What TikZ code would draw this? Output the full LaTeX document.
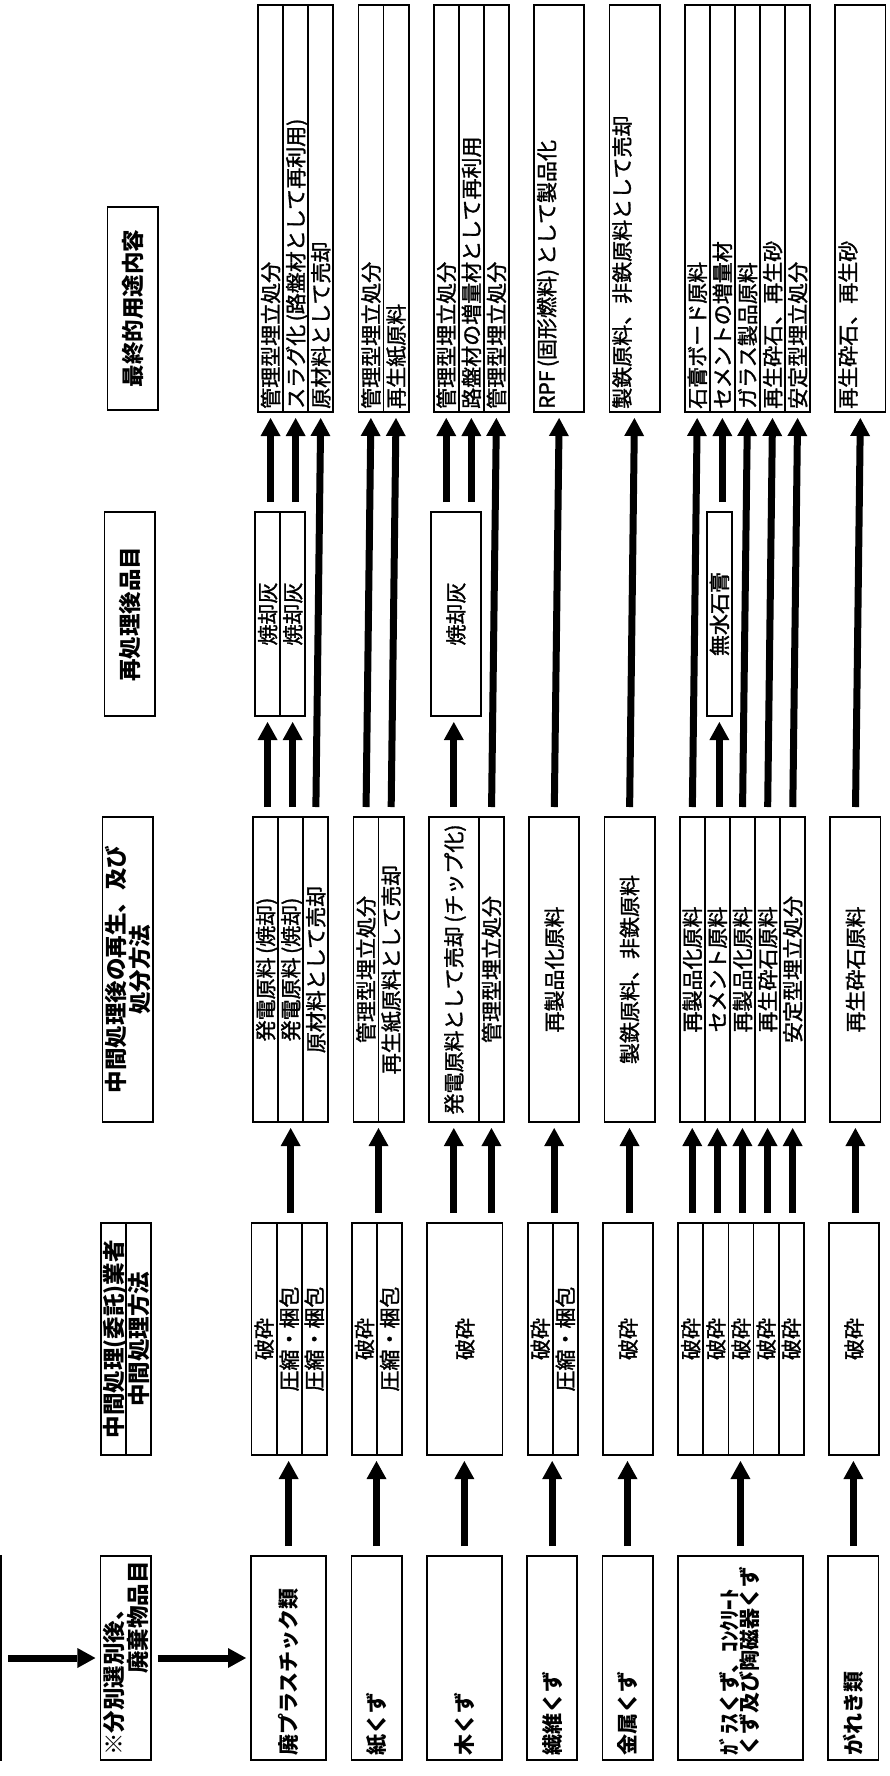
\documentclass[tikz,border=0pt]{standalone}
\usepackage{fontspec}
\setmainfont{Noto Sans CJK JP}
\newfontfamily\bodyjp{Noto Sans CJK JP}[FakeBold=1.5]
\usetikzlibrary{arrows.meta}

\newcommand\mkcell[6]{% name, base x, first unit, units, y top, y bottom
  \pgfmathsetmacro\mkW{#4*25.1}%
  \pgfmathsetmacro\mkH{#6-#5}%
  \pgfmathsetmacro\mkX{#2+(#3+#4/2)*25.1}%
  \pgfmathsetmacro\mkY{(#5+#6)/2}%
  \node[cellst, minimum width=\mkW pt, minimum height=\mkH pt] (#1) at (\mkX,\mkY) {};}

\tikzset{
  cellst/.style={draw, line width=1.8pt, inner sep=0pt, outer sep=0pt},
  txt/.style={rotate=90, inner sep=0pt, font=\bodyjp\fontsize{21}{24}\selectfont, text height=18.5pt, text depth=2.5pt},
  hd/.style={rotate=90, inner sep=0pt, font=\fontsize{22.5}{26}\selectfont\bfseries, text height=19.8pt, text depth=2.7pt},
  cat/.style={rotate=90, inner sep=0pt, font=\fontsize{21}{24}\selectfont\bfseries, text height=18.5pt, text depth=2.5pt},
  arr/.style={line width=7pt, -{Triangle[length=18pt,width=20pt,line width=0pt]}, shorten <=10pt, shorten >=6pt},
  harr/.style={arr, shorten <=7pt, shorten >=5pt}
}

\begin{document}
\begin{tikzpicture}[x=1pt,y=-1pt]
\useasboundingbox (0,0) rectangle (890,1776);
\fill[white] (0,0) rectangle (890,1776);

\def\cA{251}\def\cB{251.5}\def\cC{253}\def\cD{255}\def\cE{258}

% ---------- column 1 ----------
\node[cellst, minimum width=50pt, minimum height=204pt] (prev) at (-24,1658) {};
\mkcell{h1}{\cA}{-6}{2}{1556}{1760}
\mkcell{p1}{\cA}{0}{3}{1556}{1760}
\mkcell{k1}{\cA}{4}{2}{1556}{1760}
\mkcell{w1}{\cA}{7}{3}{1556}{1760}
\mkcell{f1}{\cA}{11}{2}{1556}{1760}
\mkcell{m1}{\cA}{14}{2}{1556}{1760}
\mkcell{g1}{\cA}{17}{5}{1556}{1760}
\mkcell{r1}{\cA}{23}{2}{1556}{1760}

% ---------- column 2 ----------
\mkcell{h2a}{\cB}{-6}{1}{1223}{1455}
\mkcell{h2b}{\cB}{-5}{1}{1223}{1455}
\mkcell{p2a}{\cB}{0}{1}{1223}{1455}
\mkcell{p2b}{\cB}{1}{1}{1223}{1455}
\mkcell{p2c}{\cB}{2}{1}{1223}{1455}
\mkcell{k2a}{\cB}{4}{1}{1223}{1455}
\mkcell{k2b}{\cB}{5}{1}{1223}{1455}
\mkcell{w2}{\cB}{7}{3}{1223}{1455}
\mkcell{f2a}{\cB}{11}{1}{1223}{1455}
\mkcell{f2b}{\cB}{12}{1}{1223}{1455}
\mkcell{m2}{\cB}{14}{2}{1223}{1455}
\mkcell{g2a}{\cB}{17}{1}{1223}{1455}
\mkcell{g2b}{\cB}{18}{1}{1223}{1455}
\mkcell{g2c}{\cB}{19}{1}{1223}{1455}
\mkcell{g2d}{\cB}{20}{1}{1223}{1455}
\mkcell{g2e}{\cB}{21}{1}{1223}{1455}
\mkcell{r2}{\cB}{23}{2}{1223}{1455}

% ---------- column 3 ----------
\mkcell{h3}{\cC}{-6}{2}{817}{1122}
\mkcell{p3a}{\cC}{0}{1}{817}{1122}
\mkcell{p3b}{\cC}{1}{1}{817}{1122}
\mkcell{p3c}{\cC}{2}{1}{817}{1122}
\mkcell{k3a}{\cC}{4}{1}{817}{1122}
\mkcell{k3b}{\cC}{5}{1}{817}{1122}
\mkcell{w3a}{\cC}{7}{2}{817}{1122}
\mkcell{w3b}{\cC}{9}{1}{817}{1122}
\mkcell{f3}{\cC}{11}{2}{817}{1122}
\mkcell{m3}{\cC}{14}{2}{817}{1122}
\mkcell{g3a}{\cC}{17}{1}{817}{1122}
\mkcell{g3b}{\cC}{18}{1}{817}{1122}
\mkcell{g3c}{\cC}{19}{1}{817}{1122}
\mkcell{g3d}{\cC}{20}{1}{817}{1122}
\mkcell{g3e}{\cC}{21}{1}{817}{1122}
\mkcell{r3}{\cC}{23}{2}{817}{1122}

% ---------- column 4 ----------
\mkcell{h4}{\cD}{-6}{2}{512}{716}
\mkcell{p4a}{\cD}{0}{1}{512}{716}
\mkcell{p4b}{\cD}{1}{1}{512}{716}
\mkcell{w4}{\cD}{7}{2}{512}{716}
\mkcell{g4}{\cD}{18}{1}{512}{716}

% ---------- column 5 ----------
\mkcell{h5}{\cE}{-6}{2}{207}{410}
\mkcell{p5a}{\cE}{0}{1}{5}{412}
\mkcell{p5b}{\cE}{1}{1}{5}{412}
\mkcell{p5c}{\cE}{2}{1}{5}{412}
\mkcell{k5a}{\cE}{4}{1}{5}{412}
\mkcell{k5b}{\cE}{5}{1}{5}{412}
\mkcell{w5a}{\cE}{7}{1}{5}{412}
\mkcell{w5b}{\cE}{8}{1}{5}{412}
\mkcell{w5c}{\cE}{9}{1}{5}{412}
\mkcell{f5}{\cE}{11}{2}{5}{412}
\mkcell{m5}{\cE}{14}{2}{5}{412}
\mkcell{g5a}{\cE}{17}{1}{5}{412}
\mkcell{g5b}{\cE}{18}{1}{5}{412}
\mkcell{g5c}{\cE}{19}{1}{5}{412}
\mkcell{g5d}{\cE}{20}{1}{5}{412}
\mkcell{g5e}{\cE}{21}{1}{5}{412}
\mkcell{r5}{\cE}{23}{2}{5}{412}

% ---------- texts: column 1 ----------
\node[hd, anchor=west] (th1a) at ([xshift=-12pt,yshift=4pt]h1.south) {※分別選別後、};
\node[hd, anchor=east] (th1b) at ([xshift=12pt,yshift=-5pt]h1.north) {廃棄物品目};
\node[cat, anchor=west] (tp1) at ([yshift=4pt]p1.south) {廃プラスチック類};
\node[cat, anchor=west] (tk1) at ([yshift=4pt]k1.south) {紙くず};
\node[cat, anchor=west] (tw1) at ([yshift=4pt]w1.south) {木くず};
\node[cat, anchor=west] (tf1) at ([yshift=4pt]f1.south) {繊維くず};
\node[cat, anchor=west] (tm1) at ([yshift=4pt]m1.south) {金属くず};
\node[cat, anchor=west] (tg1a) at ([xshift=-11pt,yshift=4pt]g1.south) {ｶﾞﾗｽくず、ｺﾝｸﾘｰﾄ};
\node[cat, anchor=west] (tg1b) at ([xshift=9pt,yshift=4pt]g1.south) {くず及び陶磁器くず};
\node[cat, anchor=west] (tr1) at ([yshift=4pt]r1.south) {がれき類};

% ---------- texts: column 2 ----------
\node[hd] (th2a) at (h2a) {中間処理(委託)業者};
\node[hd] (th2b) at (h2b) {中間処理方法};
\node[txt] (tp2a) at (p2a) {破砕};
\node[txt] (tp2b) at (p2b) {圧縮・梱包};
\node[txt] (tp2c) at (p2c) {圧縮・梱包};
\node[txt] (tk2a) at (k2a) {破砕};
\node[txt] (tk2b) at (k2b) {圧縮・梱包};
\node[txt] (tw2) at (w2) {破砕};
\node[txt] (tf2a) at (f2a) {破砕};
\node[txt] (tf2b) at (f2b) {圧縮・梱包};
\node[txt] (tm2) at (m2) {破砕};
\node[txt] (tg2a) at (g2a) {破砕};
\node[txt] (tg2b) at (g2b) {破砕};
\node[txt] (tg2c) at (g2c) {破砕};
\node[txt] (tg2d) at (g2d) {破砕};
\node[txt] (tg2e) at (g2e) {破砕};
\node[txt] (tr2) at (r2) {破砕};

% ---------- texts: column 3 ----------
\node[hd] (th3a) at ([xshift=-12pt]h3.center) {中間処理後の再生、及び};
\node[hd] (th3b) at ([xshift=12pt]h3.center) {処分方法};
\node[txt] (tp3a) at (p3a) {発電原料\,(焼却)};
\node[txt] (tp3b) at (p3b) {発電原料\,(焼却)};
\node[txt] (tp3c) at (p3c) {原材料として売却};
\node[txt] (tk3a) at (k3a) {管理型埋立処分};
\node[txt] (tk3b) at (k3b) {再生紙原料として売却};
\node[txt] (tw3a) at (w3a) {発電原料として売却\,(チップ化)};
\node[txt] (tw3b) at (w3b) {管理型埋立処分};
\node[txt] (tf3) at (f3) {再製品化原料};
\node[txt] (tm3) at (m3) {製鉄原料、非鉄原料};
\node[txt] (tg3a) at (g3a) {再製品化原料};
\node[txt] (tg3b) at (g3b) {セメント原料};
\node[txt] (tg3c) at (g3c) {再製品化原料};
\node[txt] (tg3d) at (g3d) {再生砕石原料};
\node[txt] (tg3e) at (g3e) {安定型埋立処分};
\node[txt] (tr3) at (r3) {再生砕石原料};

% ---------- texts: column 4 ----------
\node[hd] (th4) at (h4) {再処理後品目};
\node[txt] (tp4a) at (p4a) {焼却灰};
\node[txt] (tp4b) at (p4b) {焼却灰};
\node[txt] (tw4) at (w4) {焼却灰};
\node[txt] (tg4) at (g4) {無水石膏};

% ---------- texts: column 5 ----------
\node[hd] (th5) at (h5) {最終的用途内容};
\node[txt, anchor=west] (tp5a) at ([yshift=3pt]p5a.south) {管理型埋立処分};
\node[txt, anchor=west] (tp5b) at ([yshift=3pt]p5b.south) {スラグ化\,(路盤材として再利用)};
\node[txt, anchor=west] (tp5c) at ([yshift=3pt]p5c.south) {原材料として売却};
\node[txt, anchor=west] (tk5a) at ([yshift=3pt]k5a.south) {管理型埋立処分};
\node[txt, anchor=west] (tk5b) at ([yshift=3pt]k5b.south) {再生紙原料};
\node[txt, anchor=west] (tw5a) at ([yshift=3pt]w5a.south) {管理型埋立処分};
\node[txt, anchor=west] (tw5b) at ([yshift=3pt]w5b.south) {路盤材の増量材として再利用};
\node[txt, anchor=west] (tw5c) at ([yshift=3pt]w5c.south) {管理型埋立処分};
\node[txt, anchor=west] (tf5) at ([xshift=12.55pt,yshift=3pt]f5.south west) {RPF\,(固形燃料)\,として製品化};
\node[txt, anchor=west] (tm5) at ([xshift=12.55pt,yshift=3pt]m5.south west) {製鉄原料、非鉄原料として売却};
\node[txt, anchor=west] (tg5a) at ([yshift=3pt]g5a.south) {石膏ボード原料};
\node[txt, anchor=west] (tg5b) at ([yshift=3pt]g5b.south) {セメントの増量材};
\node[txt, anchor=west] (tg5c) at ([yshift=3pt]g5c.south) {ガラス製品原料};
\node[txt, anchor=west] (tg5d) at ([yshift=3pt]g5d.south) {再生砕石、再生砂};
\node[txt, anchor=west] (tg5e) at ([yshift=3pt]g5e.south) {安定型埋立処分};
\node[txt, anchor=west] (tr5) at ([xshift=12.55pt,yshift=3pt]r5.south west) {再生砕石、再生砂};

% ---------- arrows ----------
\draw[harr] (prev.east) -- (h1.west);
\draw[harr] (h1.east) -- (p1.west);

% col1 -> col2
\draw[arr] (p1.north) -- (p1.north |- p2a.south);
\draw[arr] (k1.north) -- (k1.north |- k2a.south);
\draw[arr] (w1.north) -- (w1.north |- w2.south);
\draw[arr] (f1.north) -- (f1.north |- f2a.south);
\draw[arr] (m1.north) -- (m1.north |- m2.south);
\draw[arr] (g1.north) -- (g1.north |- g2a.south);
\draw[arr] (r1.north) -- (r1.north |- r2.south);

% col2 -> col3
\draw[arr] (p3b.south |- p2b.north) -- (p3b.south);
\draw[arr] (k3a.south east |- k2a.north) -- (k3a.south east);
\draw[arr] (w3a.south |- w2.north) -- (w3a.south);
\draw[arr] (w3b.south |- w2.north) -- (w3b.south);
\draw[arr] (f3.south |- f2a.north) -- (f3.south);
\draw[arr] (m3.south |- m2.north) -- (m3.south);
\draw[arr] (g3a.south |- g2a.north) -- (g3a.south);
\draw[arr] (g3b.south |- g2b.north) -- (g3b.south);
\draw[arr] (g3c.south |- g2c.north) -- (g3c.south);
\draw[arr] (g3d.south |- g2d.north) -- (g3d.south);
\draw[arr] (g3e.south |- g2e.north) -- (g3e.south);
\draw[arr] (r3.south |- r2.north) -- (r3.south);

% col3 -> col4
\draw[arr] (p4a.south |- p3a.north) -- (p4a.south);
\draw[arr] (p4b.south |- p3b.north) -- (p4b.south);
\draw[arr] (w3a.north) -- (w3a.north |- w4.south);
\draw[arr] (g4.south |- g3b.north) -- (g4.south);

% col3 -> col5 (long)
\draw[arr] (p3c.north) -- (p5c.south);
\draw[arr] (k3a.north) -- (k5a.south);
\draw[arr] (k3b.north) -- (k5b.south);
\draw[arr] (w3b.north) -- (w5c.south);
\draw[arr] (f3.north) -- (f5.south);
\draw[arr] (m3.north) -- (m5.south);
\draw[arr] (g3a.north) -- (g5a.south);
\draw[arr] (g3c.north) -- (g5c.south);
\draw[arr] (g3d.north) -- (g5d.south);
\draw[arr] (g3e.north) -- (g5e.south);
\draw[arr] (r3.north) -- (r5.south);

% col4 -> col5
\draw[arr] (p5a.south |- p4a.north) -- (p5a.south);
\draw[arr] (p5b.south |- p4b.north) -- (p5b.south);
\draw[arr] (w5a.south |- w4.north) -- (w5a.south);
\draw[arr] (w5b.south |- w4.north) -- (w5b.south);
\draw[arr] (g5b.south |- g4.north) -- (g5b.south);
\end{tikzpicture}
\end{document}
